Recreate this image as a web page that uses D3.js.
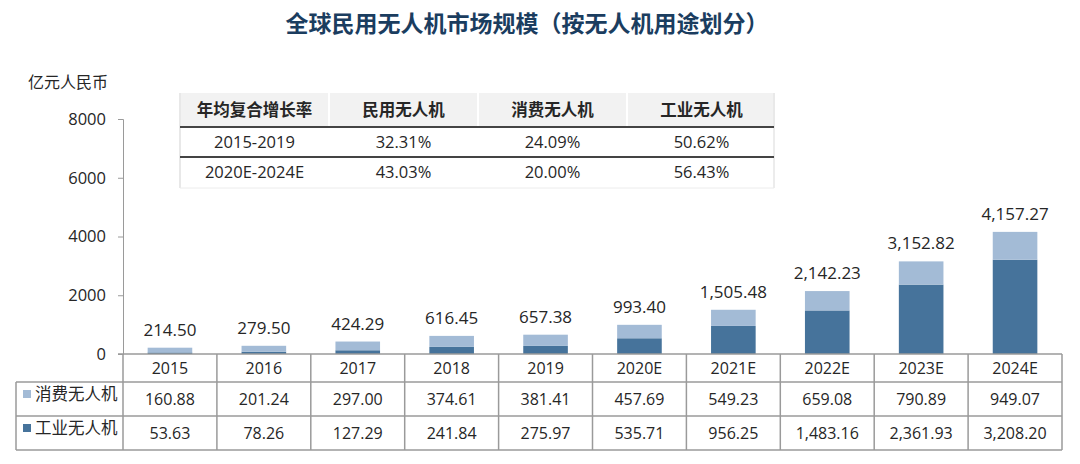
<!DOCTYPE html>
<html><head><meta charset="utf-8">
<script src="https://cdn.jsdelivr.net/npm/d3@7"></script>
<style>
html,body{margin:0;padding:0;background:#fff;}
svg{display:block;font-family:"Open Sans","Noto Sans CJK SC",sans-serif;}
</style></head>
<body><svg id="c" width="1080" height="464"></svg>
<script>
const categories = ["2015","2016","2017","2018","2019","2020E","2021E","2022E","2023E","2024E"];
const consumer = [160.88,201.24,297.00,374.61,381.41,457.69,549.23,659.08,790.89,949.07];
const industrial = [53.63,78.26,127.29,241.84,275.97,535.71,956.25,1483.16,2361.93,3208.20];
const totals = [214.50,279.50,424.29,616.45,657.38,993.40,1505.48,2142.23,3152.82,4157.27];
const yTicks = [0,2000,4000,6000,8000];
const seriesNames = ["消费无人机","工业无人机"];
const cagrHeader = ["年均复合增长率","民用无人机","消费无人机","工业无人机"];
const cagrPeriods = ["2015-2019","2020E-2024E"];
const cagrCivil = ["32.31%","43.03%"];
const cagrConsumer = ["24.09%","20.00%"];
const cagrIndustrial = ["50.62%","56.43%"];
const title = "全球民用无人机市场规模（按无人机用途划分）";
const unit = "亿元人民币";

const colLight = "#a3bbd6", colDark = "#46739b", grid = "#9a9a9a", txt = "#262626";
const svg = d3.select("#c");
svg.append("rect").attr("width",1080).attr("height",464).attr("fill","#fff");

svg.append("text").attr("x",527).attr("y",32).attr("text-anchor","middle")
  .attr("font-size",23).attr("font-weight","bold").attr("fill","#1b3d5f")
  .attr("font-family","'Noto Sans CJK SC',sans-serif").text(title);

svg.append("text").attr("x",28).attr("y",88).attr("font-size",16).attr("fill",txt)
  .attr("font-family","'Noto Sans CJK SC',sans-serif").text(unit);

const x = d3.scaleBand().domain(categories).range([123,1062]).paddingInner(0).paddingOuter(0);
const y = d3.scaleLinear().domain([0,8000]).range([354,119]);
const bw = x.bandwidth()*0.475;

// y axis
const yAxis = d3.axisLeft(y).tickValues(yTicks).tickSize(5).tickPadding(12).tickFormat(d3.format("d"));
const ga = svg.append("g").attr("transform","translate(123,0)").call(yAxis);
ga.select(".domain").attr("stroke",grid);
ga.selectAll(".tick line").attr("stroke",grid);
ga.selectAll(".tick text").attr("font-size",16.5).attr("fill",txt).attr("font-family","'Open Sans',sans-serif");

// bars
const g = svg.append("g");
categories.forEach((c,i)=>{
  const cx = x(c)+x.bandwidth()/2;
  g.append("rect").attr("x",cx-bw/2).attr("width",bw)
    .attr("y",y(industrial[i])).attr("height",y(0)-y(industrial[i])).attr("fill",colDark);
  g.append("rect").attr("x",cx-bw/2).attr("width",bw)
    .attr("y",y(industrial[i]+consumer[i])).attr("height",y(industrial[i])-y(industrial[i]+consumer[i])).attr("fill",colLight);
  g.append("text").attr("x",cx).attr("y",y(totals[i])-12).attr("text-anchor","middle")
    .attr("font-size",17).attr("fill",txt).text(d3.format(",.2f")(totals[i]));
});

// data table
const fmt = d3.format(",.2f");
const rows = [382,416,450];
const tg = svg.append("g");
tg.append("line").attr("x1",118).attr("x2",1062).attr("y1",354).attr("y2",354).attr("stroke",grid).attr("stroke-width",1.5);
rows.forEach(r=>tg.append("line").attr("x1",16).attr("x2",1062).attr("y1",r).attr("y2",r).attr("stroke",grid).attr("stroke-width",1.5));
tg.append("line").attr("x1",16).attr("x2",16).attr("y1",382).attr("y2",450).attr("stroke",grid).attr("stroke-width",1.5);
categories.forEach(c=>tg.append("line").attr("x1",x(c)).attr("x2",x(c)).attr("y1",354).attr("y2",450).attr("stroke",grid).attr("stroke-width",1.5));
tg.append("line").attr("x1",1062).attr("x2",1062).attr("y1",354).attr("y2",450).attr("stroke",grid).attr("stroke-width",1.5);

categories.forEach((c,i)=>{
  const cx = x(c)+x.bandwidth()/2;
  tg.append("text").attr("x",cx).attr("y",374).attr("text-anchor","middle").attr("font-size",16).attr("fill",txt).text(c);
  tg.append("text").attr("x",cx).attr("y",405).attr("text-anchor","middle").attr("font-size",16).attr("fill",txt).text(fmt(consumer[i]));
  tg.append("text").attr("x",cx).attr("y",439).attr("text-anchor","middle").attr("font-size",16).attr("fill",txt).text(fmt(industrial[i]));
});
[colLight,colDark].forEach((col,k)=>{
  const yc = k===0?399:433;
  tg.append("rect").attr("x",23).attr("y",yc-9).attr("width",8).attr("height",8).attr("fill",col);
  tg.append("text").attr("x",35).attr("y",yc+1).attr("font-size",16.5).attr("fill",txt)
    .attr("font-family","'Noto Sans CJK SC',sans-serif").text(seriesNames[k]);
});

// CAGR inset table
const cx0 = 180, cw = 149;
const ig = svg.append("g");
cagrHeader.forEach((h,j)=>{
  ig.append("rect").attr("x",cx0+j*cw+1).attr("y",93).attr("width",cw-2).attr("height",34).attr("fill","#f2f2f2");
  ig.append("text").attr("x",cx0+j*cw+cw/2).attr("y",116).attr("text-anchor","middle")
    .attr("font-size",16.5).attr("font-weight","bold").attr("fill",txt)
    .attr("font-family","'Noto Sans CJK SC',sans-serif").text(h);
});
ig.append("line").attr("x1",cx0).attr("x2",cx0).attr("y1",93).attr("y2",188).attr("stroke","#e0e0e0").attr("stroke-width",1.5);
ig.append("line").attr("x1",cx0+4*cw-2).attr("x2",cx0+4*cw-2).attr("y1",93).attr("y2",188).attr("stroke","#e6e6e6").attr("stroke-width",1.5);
[127,157].forEach(yy=>ig.append("line").attr("x1",cx0).attr("x2",cx0+4*cw-2).attr("y1",yy).attr("y2",yy).attr("stroke","#444").attr("stroke-width",2));
ig.append("line").attr("x1",cx0).attr("x2",cx0+4*cw-2).attr("y1",188).attr("y2",188).attr("stroke","#ececec").attr("stroke-width",1);
const rowCols = [cagrPeriods,cagrCivil,cagrConsumer,cagrIndustrial];
[148,178].forEach((yy,r)=>{
  rowCols.forEach((col,j)=>{
    ig.append("text").attr("x",cx0+j*cw+cw/2).attr("y",yy).attr("text-anchor","middle")
      .attr("font-size",16.5).attr("fill",txt).text(col[r]);
  });
});
</script></body></html>
